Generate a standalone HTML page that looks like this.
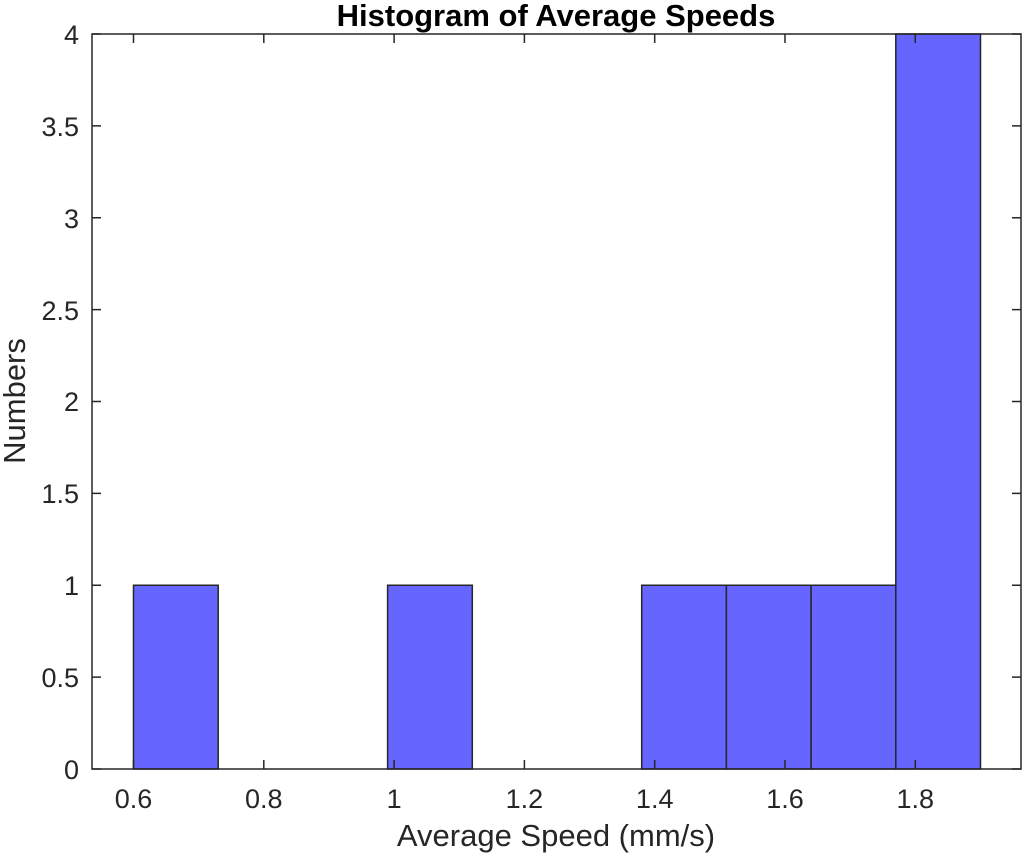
<!DOCTYPE html>
<html><head><style>body{margin:0;background:#fff}</style></head><body>
<svg width="1024" height="860" xmlns="http://www.w3.org/2000/svg" font-family="Liberation Sans, sans-serif">
<rect width="1024" height="860" fill="#fff"/>
<g fill="#6666ff" stroke="#262626" stroke-width="1.5">
<rect x="133.5" y="585.25" width="84.7" height="183.75"/>
<rect x="387.6" y="585.25" width="84.7" height="183.75"/>
<rect x="641.7" y="585.25" width="84.7" height="183.75"/>
<rect x="726.4" y="585.25" width="84.7" height="183.75"/>
<rect x="811.1" y="585.25" width="84.7" height="183.75"/>
<rect x="895.8" y="34" width="84.7" height="735"/>
</g>
<rect x="92" y="34" width="929" height="735" fill="none" stroke="#262626" stroke-width="1.5"/>
<g stroke="#262626" stroke-width="1.5">
<path d="M133.5 769v-9M133.5 34v9M263.8 769v-9M263.8 34v9M394.1 769v-9M394.1 34v9M524.4 769v-9M524.4 34v9M654.7 769v-9M654.7 34v9M785 769v-9M785 34v9M915.3 769v-9M915.3 34v9"/>
<path d="M92 769h9M1021 769h-9M92 677.1h9M1021 677.1h-9M92 585.25h9M1021 585.25h-9M92 493.4h9M1021 493.4h-9M92 401.5h9M1021 401.5h-9M92 309.6h9M1021 309.6h-9M92 217.75h9M1021 217.75h-9M92 125.9h9M1021 125.9h-9M92 34h9M1021 34h-9"/>
</g>
<g font-size="27" fill="#262626" text-anchor="middle">
<text x="133.5" y="808">0.6</text><text x="263.8" y="808">0.8</text><text x="394.1" y="808">1</text><text x="524.4" y="808">1.2</text><text x="654.7" y="808">1.4</text><text x="785" y="808">1.6</text><text x="915.3" y="808">1.8</text>
</g>
<g font-size="27" fill="#262626" text-anchor="end">
<text x="79" y="779">0</text><text x="79" y="687">0.5</text><text x="79" y="595">1</text><text x="79" y="503">1.5</text><text x="79" y="411">2</text><text x="79" y="320">2.5</text><text x="79" y="228">3</text><text x="79" y="136">3.5</text><text x="79" y="44">4</text>
</g>
<text x="556" y="846" font-size="31" fill="#262626" text-anchor="middle">Average Speed (mm/s)</text>
<text transform="translate(25 401) rotate(-90)" font-size="31" fill="#262626" text-anchor="middle">Numbers</text>
<text x="556" y="26" font-size="31" font-weight="bold" fill="#000" text-anchor="middle">Histogram of Average Speeds</text>
</svg>
</body></html>
